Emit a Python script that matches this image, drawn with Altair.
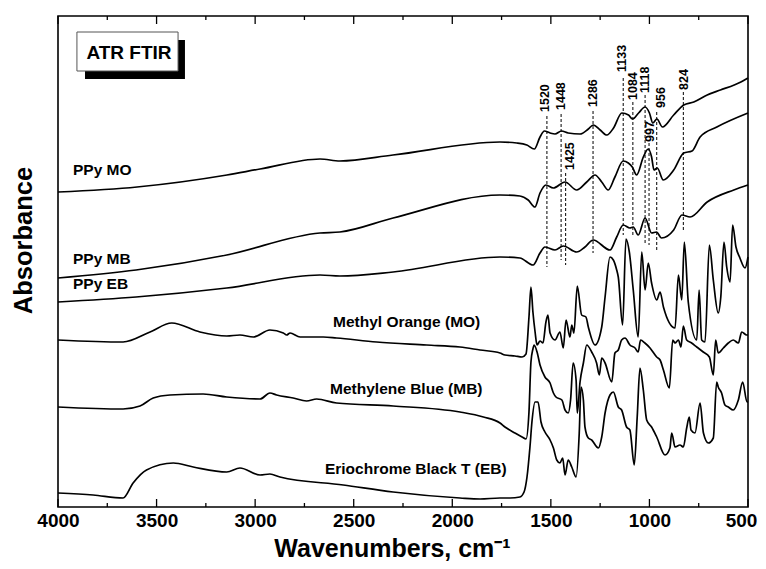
import altair as alt
import pandas as pd

# ---------------- data (wavenumber cm-1, absorbance a.u.) ----------------
PPY_MO = [(4000, 3.15), (3599, 3.20), (3143, 3.32), (2975, 3.38), (2671, 3.48), (2570, 3.46),
          (2301, 3.52), (1758, 3.65), (1673, 3.64), (1622, 3.62), (1584, 3.58), (1555, 3.70),
          (1533, 3.76), (1504, 3.74), (1479, 3.73), (1446, 3.76), (1412, 3.74), (1352, 3.73),
          (1310, 3.78), (1285, 3.82), (1250, 3.77), (1216, 3.72), (1182, 3.79), (1140, 3.94),
          (1106, 3.92), (1086, 3.88), (1055, 3.94), (1022, 4.00), (1000, 3.94), (983, 3.84),
          (962, 3.88), (934, 3.80), (877, 3.92), (826, 4.02), (775, 4.05), (707, 4.12),
          (640, 4.17), (570, 4.22), (536, 4.25), (500, 4.29)]

PPY_MB = [(4000, 2.29), (3604, 2.37), (3144, 2.52), (2671, 2.74), (2570, 2.75), (2300, 2.89),
          (1758, 3.12), (1657, 3.11), (1615, 3.07), (1581, 3.00), (1555, 3.14), (1525, 3.22),
          (1488, 3.19), (1428, 3.25), (1369, 3.17), (1318, 3.25), (1276, 3.32), (1242, 3.25),
          (1209, 3.17), (1175, 3.30), (1133, 3.46), (1107, 3.44), (1087, 3.40), (1065, 3.32),
          (1031, 3.50), (1006, 3.58), (989, 3.50), (977, 3.37), (960, 3.39), (930, 3.27),
          (877, 3.37), (826, 3.54), (784, 3.56), (743, 3.70), (658, 3.80), (500, 3.94)]

PPY_EB = [(4000, 2.05), (3604, 2.10), (3144, 2.19), (2671, 2.32), (2570, 2.31), (2300, 2.35),
          (1758, 2.50), (1657, 2.49), (1590, 2.42), (1555, 2.54), (1530, 2.60), (1479, 2.57),
          (1437, 2.61), (1369, 2.55), (1327, 2.60), (1285, 2.67), (1200, 2.57), (1166, 2.70),
          (1133, 2.82), (1099, 2.79), (1082, 2.80), (1057, 2.72), (1022, 2.89), (989, 2.74),
          (964, 2.75), (939, 2.69), (877, 2.77), (835, 2.92), (794, 2.90), (707, 3.05),
          (572, 3.17), (500, 3.22)]

MO_DYE = [(4000, 1.67), (3670, 1.65), (3533, 1.75), (3423, 1.84), (3280, 1.75), (3144, 1.71),
          (3077, 1.72), (3009, 1.70), (2925, 1.77), (2857, 1.74), (2840, 1.72), (2823, 1.74),
          (2772, 1.70), (2654, 1.70), (2587, 1.69), (2384, 1.65), (2130, 1.62), (1961, 1.60),
          (1859, 1.57), (1758, 1.54), (1733, 1.52), (1682, 1.51), (1646, 1.50), (1626, 1.53),
          (1611, 1.90), (1601, 2.20), (1591, 1.95), (1580, 1.75), (1570, 1.62), (1555, 1.66),
          (1540, 1.64), (1525, 1.85), (1515, 1.92), (1504, 1.74), (1479, 1.67), (1454, 1.75),
          (1437, 1.59), (1423, 1.87), (1403, 1.70), (1394, 1.82), (1383, 1.74), (1366, 2.21),
          (1344, 1.92), (1322, 1.90), (1310, 1.80), (1276, 1.62), (1242, 1.80), (1225, 2.10),
          (1200, 2.50), (1183, 2.47), (1166, 2.37), (1158, 2.30), (1136, 1.82), (1119, 2.68),
          (1102, 2.55), (1082, 2.17), (1057, 1.70), (1039, 2.55), (1022, 2.17), (1006, 2.44),
          (989, 2.24), (963, 2.07), (946, 2.15), (929, 2.00), (870, 1.79), (853, 2.32),
          (836, 2.07), (823, 2.65), (803, 2.05), (760, 1.67), (748, 2.17), (735, 1.67),
          (718, 1.65), (696, 2.62), (676, 2.27), (651, 1.94), (638, 2.10), (622, 2.65),
          (608, 2.40), (591, 2.25), (578, 2.82), (561, 2.60), (541, 2.49), (515, 2.39),
          (500, 2.50)]

MB_DYE = [(4000, 1.00), (3670, 0.98), (3584, 1.01), (3517, 1.09), (3432, 1.12), (3264, 1.13),
          (3144, 1.10), (2975, 1.08), (2925, 1.14), (2891, 1.12), (2807, 1.09), (2739, 1.06),
          (2688, 1.08), (2587, 1.04), (2300, 1.01), (1961, 0.95), (1842, 0.90), (1758, 0.84),
          (1733, 0.80), (1682, 0.74), (1646, 0.70), (1626, 0.68), (1611, 0.95), (1601, 1.45),
          (1591, 1.58), (1585, 1.62), (1570, 1.55), (1555, 1.42), (1530, 1.30), (1504, 1.24),
          (1487, 1.14), (1474, 1.10), (1444, 1.07), (1428, 0.97), (1412, 0.94), (1400, 1.07),
          (1387, 1.44), (1372, 1.27), (1366, 0.94), (1352, 1.25), (1335, 1.44), (1318, 1.62),
          (1293, 1.55), (1268, 1.44), (1254, 1.32), (1242, 1.49), (1225, 1.44), (1191, 1.25),
          (1175, 1.54), (1158, 1.57), (1141, 1.67), (1124, 1.69), (1099, 1.62), (1073, 1.59),
          (1057, 1.55), (1045, 1.67), (1023, 1.64), (997, 1.59), (963, 1.50), (946, 1.47),
          (929, 1.37), (899, 1.19), (882, 1.67), (870, 1.64), (853, 1.67), (840, 1.60),
          (828, 1.81), (811, 1.67), (786, 1.64), (760, 1.60), (727, 1.55), (696, 1.50),
          (676, 1.32), (664, 1.67), (651, 1.54), (625, 1.59), (600, 1.64), (575, 1.67),
          (549, 1.64), (532, 1.75), (507, 1.72), (500, 1.72)]

EB_DYE = [(4000, 0.14), (3822, 0.12), (3670, 0.09), (3619, 0.24), (3551, 0.37), (3415, 0.44),
          (3314, 0.40), (3144, 0.35), (3077, 0.39), (2975, 0.32), (2925, 0.33), (2874, 0.30),
          (2553, 0.22), (2300, 0.15), (1961, 0.09), (1859, 0.08), (1758, 0.09), (1707, 0.09),
          (1657, 0.10), (1636, 0.15), (1621, 0.30), (1606, 0.60), (1596, 0.85), (1580, 1.05),
          (1565, 1.05), (1550, 0.85), (1530, 0.75), (1504, 0.67), (1487, 0.59), (1470, 0.47),
          (1454, 0.44), (1440, 0.49), (1428, 0.32), (1412, 0.47), (1394, 0.40), (1372, 0.30),
          (1356, 0.74), (1347, 1.20), (1335, 1.07), (1327, 0.80), (1310, 0.69), (1293, 0.67),
          (1259, 0.59), (1242, 0.70), (1225, 0.94), (1200, 1.12), (1183, 1.15), (1158, 1.00),
          (1141, 0.97), (1116, 0.80), (1099, 0.77), (1077, 0.42), (1062, 0.90), (1048, 1.39),
          (1031, 1.17), (1014, 0.87), (989, 0.80), (963, 0.70), (921, 0.52), (896, 0.59),
          (887, 0.74), (870, 0.60), (845, 0.62), (828, 0.60), (811, 0.79), (798, 0.90),
          (789, 0.77), (769, 0.74), (743, 1.04), (726, 0.74), (701, 0.64), (676, 0.69),
          (659, 1.25), (651, 1.20), (634, 1.14), (617, 1.02), (600, 1.00), (575, 0.97),
          (549, 1.07), (527, 1.25), (505, 1.05), (500, 1.05)]

SPECTRA = [("PPy MO", PPY_MO), ("PPy MB", PPY_MB), ("PPy EB", PPY_EB),
           ("Methyl Orange (MO)", MO_DYE), ("Methylene Blue (MB)", MB_DYE),
           ("Eriochrome Black T (EB)", EB_DYE)]

# peak markers: label, line position (cm-1), line top / bottom (a.u.), label position
PEAK_LABELS = ["1520", "1448", "1425", "1286", "1133", "1084", "1118", "997", "956", "824"]
PEAK_POS    = [1520, 1448, 1425, 1286, 1133, 1084, 1022, 1002, 963, 828]
PEAK_TOP    = [3.91, 3.93, 3.34, 3.96, 4.29, 4.05, 4.12, 3.64, 3.95, 4.15]
PEAK_BOTTOM = [2.40, 2.47, 2.42, 2.54, 2.72, 2.70, 2.62, 2.62, 2.57, 2.77]
LABEL_POS   = [1530, 1448, 1403, 1286, 1137, 1084, 1020, 995, 942, 825]
LABEL_Y     = [3.95, 3.97, 3.37, 4.00, 4.35, 4.07, 4.14, 3.65, 3.99, 4.17]

CURVE_LABELS = ["PPy MO", "PPy MB", "PPy EB", "Methyl Orange (MO)",
                "Methylene Blue (MB)", "Eriochrome Black T (EB)"]
CURVE_LABEL_W = [3924, 3924, 3924, 2605, 2620, 2646]
CURVE_LABEL_A = [3.37, 2.48, 2.23, 1.85, 1.18, 0.38]

BOX_TEXT = "ATR FTIR"
BOX_W = [3904, 3391]
BOX_A = [4.36, 4.75]
SHADOW_W = [3863, 3356]
SHADOW_A = [4.28, 4.67]
BOX_TEXT_POS = (3640, 4.54)

MAJOR_TICKS = [4000, 3500, 3000, 2500, 2000, 1500, 1000, 500]
MINOR_TICKS = [3750, 3250, 2750, 2250, 1750, 1250, 750]

FONT = "Liberation Sans"

# ---------------- frames ----------------
rows = []
for name, pts in SPECTRA:
    for i, (w, a) in enumerate(pts):
        rows.append({"series": name, "w": w, "a": a, "i": i})
spec_df = pd.DataFrame(rows)

peaks_df = pd.DataFrame({"label": PEAK_LABELS, "w": PEAK_POS, "top": PEAK_TOP,
                         "bottom": PEAK_BOTTOM, "lw": LABEL_POS, "ly": LABEL_Y})
curve_lab_df = pd.DataFrame({"label": CURVE_LABELS, "w": CURVE_LABEL_W, "a": CURVE_LABEL_A})
box_df = pd.DataFrame({"w1": [SHADOW_W[0], BOX_W[0]], "w2": [SHADOW_W[1], BOX_W[1]],
                       "a1": [SHADOW_A[0], BOX_A[0]], "a2": [SHADOW_A[1], BOX_A[1]],
                       "kind": ["shadow", "box"]})
box_text_df = pd.DataFrame({"label": [BOX_TEXT], "w": [BOX_TEXT_POS[0]], "a": [BOX_TEXT_POS[1]]})
major_df = pd.DataFrame({"w": MAJOR_TICKS})
minor_df = pd.DataFrame({"w": MINOR_TICKS})

H = 491
W = 690

x_scale = alt.Scale(domain=[4000, 500], nice=False, zero=False)
y_scale = alt.Scale(domain=[0, 4.91], nice=False, zero=False)

X_AX = alt.Axis(values=MAJOR_TICKS, format="d", title="Wavenumbers, cm⁻¹",
                labelFontSize=19, labelFontWeight="bold", labelPadding=4,
                labelOffset=alt.condition("datum.value == 500", alt.value(-7), alt.value(0)),
                labelFlush=False, labelOverlap=False, ticks=False, domain=False,
                grid=False, titleFontSize=25, titleFontWeight="bold", titlePadding=6,
                titleX=334)
Y_AX = alt.Axis(labels=False, ticks=False, domain=False, grid=False, title="Absorbance",
                titleFontSize=25.5, titleFontWeight="bold", titlePadding=22, titleY=224)


def X(field):
    return alt.X(field, type="quantitative", scale=x_scale, axis=X_AX)


def Y(field):
    return alt.Y(field, type="quantitative", scale=y_scale, axis=Y_AX)


lines = alt.Chart(spec_df).mark_line(color="black", strokeWidth=1.7, strokeJoin="round",
                                     interpolate="monotone").encode(
    x=X("w"), y=Y("a"), detail="series:N")

dashes = alt.Chart(peaks_df).mark_rule(color="black", strokeWidth=1, strokeDash=[3, 2]).encode(
    x=X("w"), y=Y("top"), y2="bottom")

peak_text = alt.Chart(peaks_df).mark_text(angle=270, align="left", baseline="middle",
                                          fontSize=12.5, fontWeight="bold", font=FONT,
                                          color="black").encode(
    x=X("lw"), y=Y("ly"), text="label:N")

curve_text = alt.Chart(curve_lab_df).mark_text(align="left", baseline="middle", fontSize=15.5,
                                               fontWeight="bold", font=FONT, color="black").encode(
    x=X("w"), y=Y("a"), text="label:N")

shadow = alt.Chart(box_df[box_df.kind == "shadow"]).mark_rect(color="black").encode(
    x=X("w1"), x2="w2", y=Y("a1"), y2="a2")
box = alt.Chart(box_df[box_df.kind == "box"]).mark_rect(fill="white", stroke="#555555",
                                                       strokeWidth=1).encode(
    x=X("w1"), x2="w2", y=Y("a1"), y2="a2")
box_text = alt.Chart(box_text_df).mark_text(align="center", baseline="middle", fontSize=19,
                                            fontWeight="bold", font=FONT, color="black").encode(
    x=X("w"), y=Y("a"), text="label:N")

tick_style = dict(color="black", strokeWidth=1.3)
bot_major = alt.Chart(major_df).mark_rule(**tick_style).encode(
    x=X("w"), y=alt.value(H), y2=alt.value(H - 8))
bot_minor = alt.Chart(minor_df).mark_rule(**tick_style).encode(
    x=X("w"), y=alt.value(H), y2=alt.value(H - 4))
top_major = alt.Chart(major_df).mark_rule(**tick_style).encode(
    x=X("w"), y=alt.value(0), y2=alt.value(8))
top_minor = alt.Chart(minor_df).mark_rule(**tick_style).encode(
    x=X("w"), y=alt.value(0), y2=alt.value(4))

chart = alt.layer(lines, dashes, peak_text, curve_text, shadow, box, box_text,
                  bot_major, bot_minor, top_major, top_minor).properties(
    width=W, height=H,
    autosize=alt.AutoSizeParams(type="none"),
    padding={"left": 50, "top": 8, "right": 10, "bottom": 54},
).configure_view(stroke="black", strokeWidth=1.6).configure_axis(
    labelFont=FONT, titleFont=FONT, labelColor="black", titleColor="black")

chart.save("out.html", embed_options={"renderer": "svg", "actions": False})
